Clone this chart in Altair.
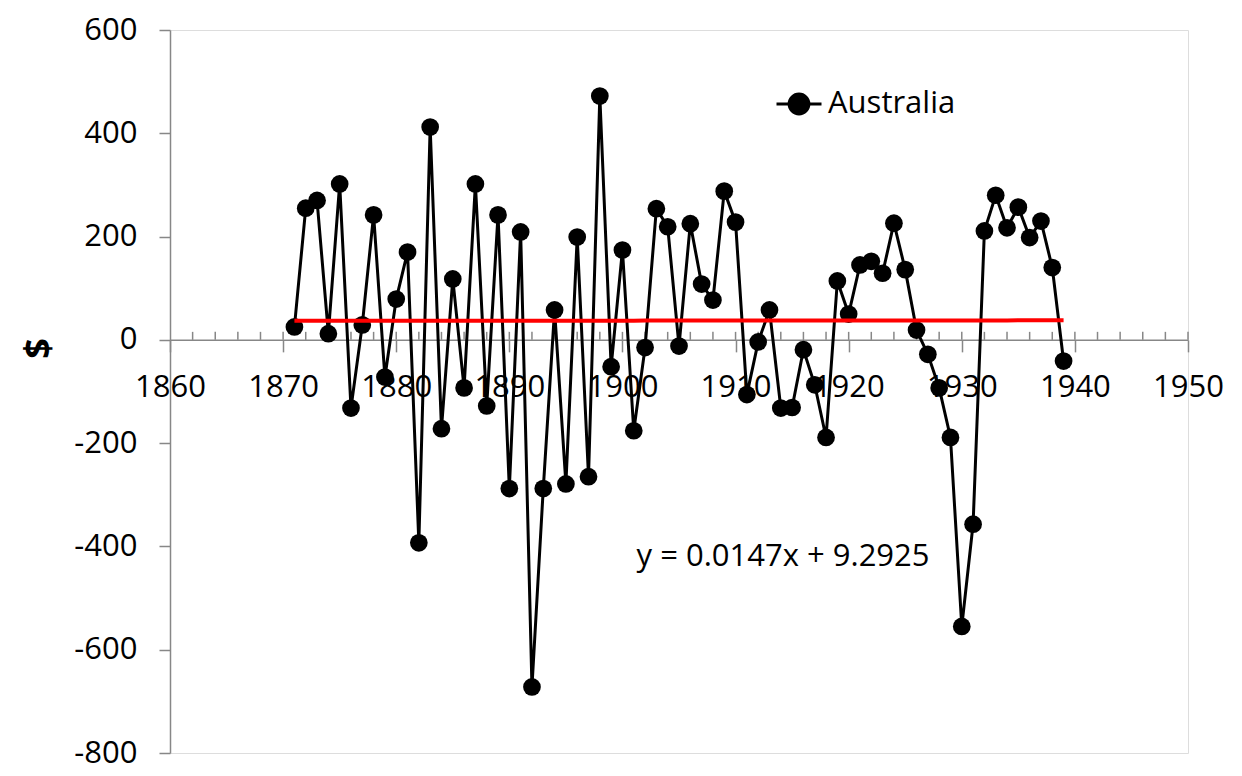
import altair as alt
import pandas as pd

# ---- data ----
years = [1871, 1872, 1873, 1874, 1875, 1876, 1877, 1878, 1879, 1880,
         1881, 1882, 1883, 1884, 1885, 1886, 1887, 1888, 1889, 1890,
         1891, 1892, 1893, 1894, 1895, 1896, 1897, 1898, 1899, 1900,
         1901, 1902, 1903, 1904, 1905, 1906, 1907, 1908, 1909, 1910,
         1911, 1912, 1913, 1914, 1915, 1916, 1917, 1918, 1919, 1920,
         1921, 1922, 1923, 1924, 1925, 1926, 1927, 1928, 1929, 1930,
         1931, 1932, 1933, 1934, 1935, 1936, 1937, 1938, 1939]
values = [25, 255, 270, 12, 302, -132, 29, 242, -72, 79,
          170, -393, 412, -172, 118, -93, 302, -128, 242, -288,
          209, -672, -288, 58, -279, 199, -265, 472, -52, 174,
          -176, -15, 254, 219, -12, 225, 108, 77, 288, 228,
          -106, -4, 58, -132, -131, -19, -87, -189, 114, 50,
          145, 152, 129, 226, 136, 19, -28, -93, -189, -555,
          -357, 211, 280, 217, 257, 198, 230, 140, -41]
series_name = "Australia"

x_tick_values = [1860, 1870, 1880, 1890, 1900, 1910, 1920, 1930, 1940, 1950]
y_tick_values = [-800, -600, -400, -200, 0, 200, 400, 600]
minor_tick_years = [1862, 1864, 1866, 1868, 1870, 1872, 1874, 1876, 1878, 1880,
                    1882, 1884, 1886, 1888, 1890, 1892, 1894, 1896, 1898, 1900,
                    1902, 1904, 1906, 1908, 1910, 1912, 1914, 1916, 1918, 1920,
                    1922, 1924, 1926, 1928, 1930, 1932, 1934, 1936, 1938, 1940,
                    1942, 1944, 1946, 1948, 1950]

trend_slope = 0.0147
trend_intercept = 9.2925
equation_label = "y = 0.0147x + 9.2925"
y_title = "$"

# ---- tables ----
df = pd.DataFrame({"year": years, "value": values, "series": [series_name] * len(years)})
ticks_df = pd.DataFrame({"year": minor_tick_years, "zero": [0] * len(minor_tick_years)})
eq_df = pd.DataFrame({"label": [equation_label]})

FONT = "Open Sans"
GRAY = "#878787"
W, H = 1018, 723
Y_MIN, Y_MAX = -800, 600
zero_offset = -H * (0 - Y_MIN) / (Y_MAX - Y_MIN)

x_scale = alt.Scale(domain=[1860, 1950], nice=False, zero=False)
y_scale = alt.Scale(domain=[Y_MIN, Y_MAX], nice=False)

x_axis = alt.Axis(values=x_tick_values, labelExpr="'' + datum.value", grid=False, title=None,
                  domainColor=GRAY, domainWidth=1.5, tickColor=GRAY, tickWidth=1.5,
                  tickSize=12, labelPadding=21, labelFont=FONT, labelFontSize=31,
                  labelColor="black", offset=zero_offset, labelOverlap=False,
                  labelFlush=False)
y_axis = alt.Axis(values=y_tick_values, labelExpr="'' + datum.value", grid=False, title=y_title,
                  domainColor=GRAY, domainWidth=1.5, tickColor=GRAY, tickWidth=1.5,
                  tickSize=11, labelPadding=22, labelFont=FONT, labelFontSize=31,
                  labelColor="black", titleFont=FONT, titleFontSize=36,
                  titleFontWeight="bold", titleColor="black", titleAngle=270,
                  titleX=-132, titleY=318, titleAlign="center", titleBaseline="middle",
                  labelFlush=False)

LEGEND_PATH = ("M-1,0H-0.44 M0.44,0 A0.44,0.44 0 1,1 -0.44,0 "
               "A0.44,0.44 0 1,1 0.44,0 M0.44,0H1")

color = alt.Color("series:N",
                  scale=alt.Scale(domain=[series_name], range=["black"]),
                  legend=alt.Legend(title=None, orient="none", legendX=605, legendY=50,
                                    symbolType=LEGEND_PATH, symbolSize=2025,
                                    symbolStrokeWidth=3, symbolFillColor="black",
                                    symbolStrokeColor="black", labelFont=FONT,
                                    labelFontSize=31, labelColor="black",
                                    labelOffset=5, padding=0))

x_enc = alt.X("year:Q", scale=x_scale, axis=x_axis)
y_enc = alt.Y("value:Q", scale=y_scale, axis=y_axis)

minor_ticks = alt.Chart(ticks_df).mark_tick(
    orient="vertical", size=8, thickness=1.5, color=GRAY, yOffset=-4, opacity=1
).encode(
    x=alt.X("year:Q", scale=x_scale, axis=x_axis),
    y=alt.Y("zero:Q", scale=y_scale, axis=y_axis),
)

line = alt.Chart(df).mark_line(strokeWidth=3).encode(x=x_enc, y=y_enc, color=color)
points = alt.Chart(df).mark_circle(size=314, opacity=1).encode(x=x_enc, y=y_enc, color=color)

trend = alt.Chart(df).transform_calculate(
    trend=f"{trend_slope} * datum.year + {trend_intercept}"
).mark_line(color="#FF0000", strokeWidth=4).encode(
    x=x_enc, y=alt.Y("trend:Q", scale=y_scale, axis=y_axis)
)

eq_text = alt.Chart(eq_df).mark_text(
    font=FONT, fontSize=31, color="black", align="center", baseline="middle"
).encode(
    x=alt.datum(1914.2, scale=x_scale),
    y=alt.datum(-420, scale=y_scale),
    text="label:N",
)

chart = alt.layer(minor_ticks, line, points, trend, eq_text).properties(
    width=W, height=H,
    autosize=alt.AutoSizeParams(type="none"),
    padding={"left": 162, "top": 22, "right": 46, "bottom": 20},
).configure_view(stroke=None).configure(background="white")

chart.save("out.html", embed_options={"renderer": "svg", "actions": False})
